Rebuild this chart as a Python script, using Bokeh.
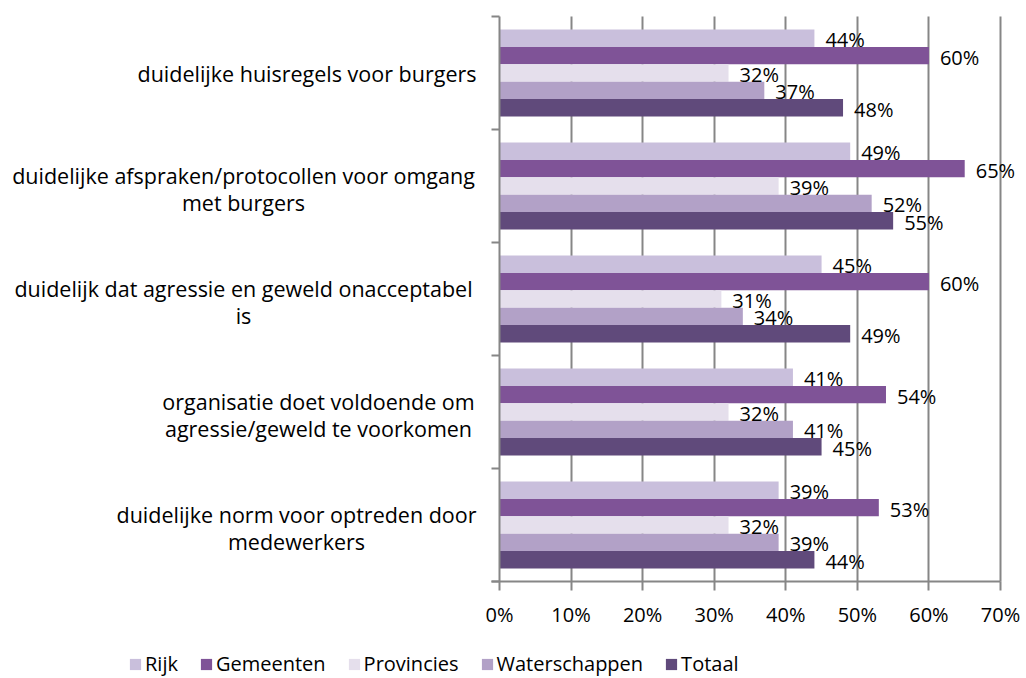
from bokeh.plotting import figure
from bokeh.models import (Range1d, FixedTicker, Label, LabelSet, ColumnDataSource,
                          Legend, LegendItem)
from bokeh.core.properties import value
from bokeh.embed import file_html
from bokeh.resources import INLINE

categories = [
    "duidelijke huisregels voor burgers",
    "duidelijke afspraken/protocollen voor omgang\nmet burgers",
    "duidelijk dat agressie en geweld onacceptabel\nis",
    "organisatie doet voldoende om\nagressie/geweld te voorkomen",
    "duidelijke norm voor optreden door\nmedewerkers",
]
series_names = ["Rijk", "Gemeenten", "Provincies", "Waterschappen", "Totaal"]
rijk = [44, 49, 45, 41, 39]
gemeenten = [60, 65, 60, 54, 53]
provincies = [32, 39, 31, 32, 32]
waterschappen = [37, 52, 34, 41, 39]
totaal = [48, 55, 49, 45, 44]
series_values = [rijk, gemeenten, provincies, waterschappen, totaal]
colors = ["#C9BFDC", "#7F5397", "#E5DFEC", "#B2A1C7", "#604A7B"]
x_ticks = [0, 10, 20, 30, 40, 50, 60, 70]
x_tick_labels = ["0%", "10%", "20%", "30%", "40%", "50%", "60%", "70%"]

FONT = "Open Sans"
W, H = 1026, 678
LEFT, RIGHT70, TOP, BOTTOM = 499, 1000, 16, 581   # pixel layout of the plot area
px = (RIGHT70 - LEFT) / 70.0
n = len(categories)
group_px = (BOTTOM - TOP) / n
bar_h = 17.4 / group_px

x_range = Range1d(-LEFT / px, (W - LEFT) / px)
y_range = Range1d(n - 0.5 + (H - BOTTOM) / group_px, -0.5 - TOP / group_px)

p = figure(width=W, height=H, output_backend="svg", toolbar_location=None,
           x_range=x_range, y_range=y_range, min_border=0,
           outline_line_color=None)
p.background_fill_color = "white"
p.border_fill_color = "white"

grey = "#868686"

# grid
p.xgrid.ticker = FixedTicker(ticks=x_ticks[1:])
p.xgrid.grid_line_color = grey
p.xgrid.grid_line_width = 2
p.xgrid.cross_bounds = (-0.5, n - 0.5)
p.ygrid.grid_line_color = None

renderers = []
for k, (name, vals, col) in enumerate(zip(series_names, series_values, colors)):
    ys = [i + (k - 2) * bar_h for i in range(n)]
    src = ColumnDataSource(dict(y=ys, right=vals,
                                lab=[f"{v}%" for v in vals]))
    r = p.hbar(y="y", left=0, right="right", height=bar_h, source=src,
               fill_color=col, line_color=None)
    renderers.append((name, r))
    ls = LabelSet(x="right", y="y", text="lab", source=src, x_offset=11,
                  y_offset=-1.5, text_baseline="middle", text_align="left",
                  text_font=value(FONT), text_font_size="20px",
                  text_color="#000000")
    p.add_layout(ls)

# axes
p.xaxis.fixed_location = n - 0.5
p.xaxis.ticker = FixedTicker(ticks=x_ticks)
p.xaxis.major_label_overrides = {t: l for t, l in zip(x_ticks, x_tick_labels)}
p.xaxis.bounds = (-8 / px, 70)
p.xaxis.axis_line_color = grey
p.xaxis.axis_line_width = 2
p.xaxis.major_tick_line_color = grey
p.xaxis.major_tick_line_width = 2
p.xaxis.major_tick_out = 9
p.xaxis.major_tick_in = 0
p.xaxis.minor_tick_line_color = None
p.xaxis.major_label_text_font = FONT
p.xaxis.major_label_text_font_size = "20px"
p.xaxis.major_label_text_color = "#000000"
p.xaxis.major_label_standoff = 10

y_ticks = [i - 0.5 for i in range(n + 1)]
p.yaxis.fixed_location = 0
p.yaxis.ticker = FixedTicker(ticks=y_ticks)
p.yaxis.major_label_overrides = {t: "" for t in y_ticks}
p.yaxis.bounds = (-0.5, n - 0.5)
p.yaxis.axis_line_color = grey
p.yaxis.axis_line_width = 2
p.yaxis.major_tick_line_color = grey
p.yaxis.major_tick_line_width = 2
p.yaxis.major_tick_out = 8
p.yaxis.major_tick_in = 0
p.yaxis.minor_tick_line_color = None

# category labels
CAT_SIZE = "21.5px"
label_right_px = 476
center_px = {1: 243, 2: 243, 3: 318, 4: 296}
for i, cat in enumerate(categories):
    lines = cat.split("\n")
    if len(lines) == 1:
        x = (label_right_px - LEFT) / px
        p.add_layout(Label(x=x, y=i, text=lines[0], text_align="right",
                           text_baseline="middle", text_font=FONT,
                           text_font_size=CAT_SIZE, text_color="#000000"))
    else:
        x = (center_px[i] - LEFT) / px
        dy = 13.5 / group_px
        shift = 2.5 / group_px
        for j, line in enumerate(lines):
            p.add_layout(Label(x=x, y=i + shift + (j * 2 - 1) * dy, text=line,
                               text_align="center", text_baseline="middle",
                               text_font=FONT, text_font_size=CAT_SIZE,
                               text_color="#000000"))

legend = Legend(items=[LegendItem(label=nm, renderers=[r]) for nm, r in renderers],
                orientation="horizontal", location=(128, 1),
                label_text_font=FONT, label_text_font_size="20px",
                label_text_color="#000000", glyph_width=14, glyph_height=14,
                label_standoff=3, spacing=21, border_line_color=None,
                background_fill_alpha=0, margin=0, padding=0)
p.add_layout(legend, "center")

open("out.html", "w").write(file_html(p, INLINE))
